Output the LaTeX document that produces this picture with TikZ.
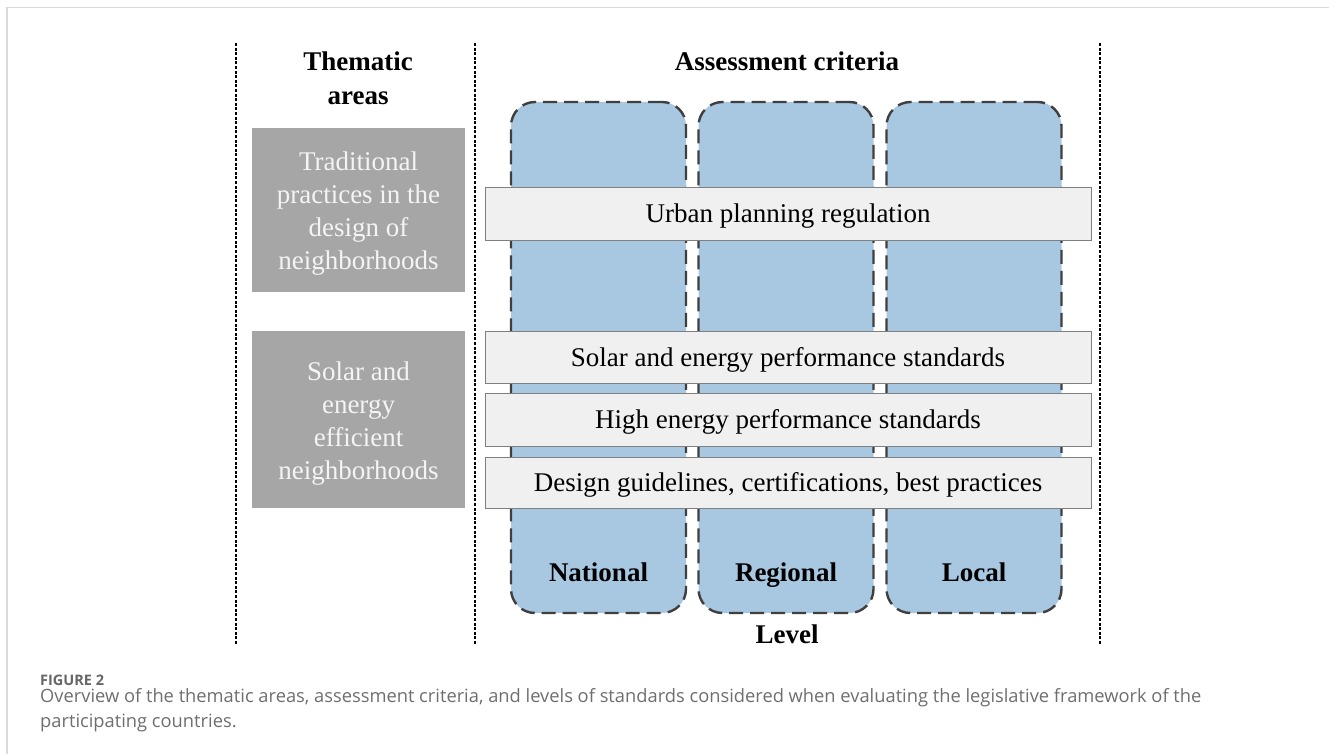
\documentclass[tikz,border=0pt]{standalone}
\usepackage{fontspec}
\setmainfont{Liberation Serif}
\newfontfamily\capfont{Open Sans}
\definecolor{colblue}{HTML}{A8C7E1}
\definecolor{dashgray}{HTML}{3F3F3F}
\definecolor{boxgray}{HTML}{A6A6A6}
\definecolor{boxtext}{HTML}{F4F4F4}
\definecolor{barfill}{HTML}{F0F0F0}
\definecolor{barline}{HTML}{7F7F7F}
\definecolor{framegray}{HTML}{DADADA}
\definecolor{captext}{HTML}{6E6E6E}
\definecolor{capfig}{HTML}{666666}
\tikzset{
  levelcol/.style={draw=dashgray, line width=2.4pt, dash pattern=on 14pt off 7pt, fill=colblue,
    rounded corners=24pt, minimum width=175pt, minimum height=511pt, inner sep=0pt},
  barbox/.style={draw=barline, line width=1pt, fill=barfill, minimum width=606pt,
    minimum height=52pt, inner sep=0pt, text height=19pt, text depth=1pt,
    font=\fontsize{27}{32}\selectfont},
  thembox/.style={fill=boxgray, minimum width=213pt, inner sep=0pt},
  themtxt/.style={text=boxtext, inner sep=0pt, align=center, font=\fontsize{27}{33}\selectfont},
  sepline/.style={draw=black, line width=1.1pt, dash pattern=on 3pt off 1.6pt},
  headtxt/.style={font=\bfseries\fontsize{27}{32}\selectfont, anchor=base, inner sep=0pt},
  captxt/.style={font=\capfont\fontsize{18.3}{22}\selectfont, text=captext, anchor=base west, inner sep=0pt}
}
\begin{document}
\begin{tikzpicture}[x=1pt,y=-1pt]
\useasboundingbox (0,0) rectangle (1329,754);
% frame
\coordinate (fr1) at (7,7.5);
\coordinate (fr2) at (1329,7.5);
\coordinate (fr3) at (7,754);
\draw[framegray, line width=1.6pt] (fr3) -- (fr1) -- (fr2);
% separator lines
\coordinate (s1t) at (236,43); \coordinate (s1b) at (236,645);
\coordinate (s2t) at (475,43); \coordinate (s2b) at (475,645);
\coordinate (s3t) at (1100,43); \coordinate (s3b) at (1100,645);
\draw[sepline] (s1t) -- (s1b);
\draw[sepline] (s2t) -- (s2b);
\draw[sepline] (s3t) -- (s3b);
% headers
\node[headtxt] (th1) at (358,71) {Thematic};
\node[headtxt] (th2) at (358,105) {areas};
\node[headtxt] (ac) at (787,71) {Assessment criteria};
% thematic boxes
\node[thembox, minimum height=164pt,
  label={[themtxt, yshift=-4pt]center:{Traditional\\practices in the\\design of\\neighborhoods}}] (tb1) at (358.5,210) {};
\node[thembox, minimum height=177pt,
  label={[themtxt, yshift=-4pt]center:{Solar and\\energy\\efficient\\neighborhoods}}] (tb2) at (358.5,419.5) {};
% level columns
\node[levelcol] (c1) at (598.5,357.5) {};
\node[levelcol] (c2) at (786,357.5) {};
\node[levelcol] (c3) at (974,357.5) {};
% bars
\node[barbox, minimum height=53pt] (b1) at (788,213.5) {Urban planning regulation};
\node[barbox] (b2) at (788,357) {Solar and energy performance standards};
\node[barbox, minimum height=53pt] (b3) at (788,419.5) {High energy performance standards};
\node[barbox, minimum height=51pt] (b4) at (788,482.5) {Design guidelines, certifications, best practices};
% level labels
\node[headtxt] (l1) at (598.5,581) {National};
\node[headtxt] (l2) at (786,581) {Regional};
\node[headtxt] (l3) at (974,581) {Local};
\node[headtxt] (lv) at (787,643) {Level};
% caption
\node[captxt, font=\capfont\bfseries\fontsize{14.5}{18}\selectfont, text=capfig] (fig) at (40,685) {FIGURE 2};
\node[captxt] (cap1) at (40,702) {Overview of the thematic areas, assessment criteria, and levels of standards considered when evaluating the legislative framework of the};
\node[captxt] (cap2) at (40,727) {participating countries.};
\end{tikzpicture}
\end{document}
